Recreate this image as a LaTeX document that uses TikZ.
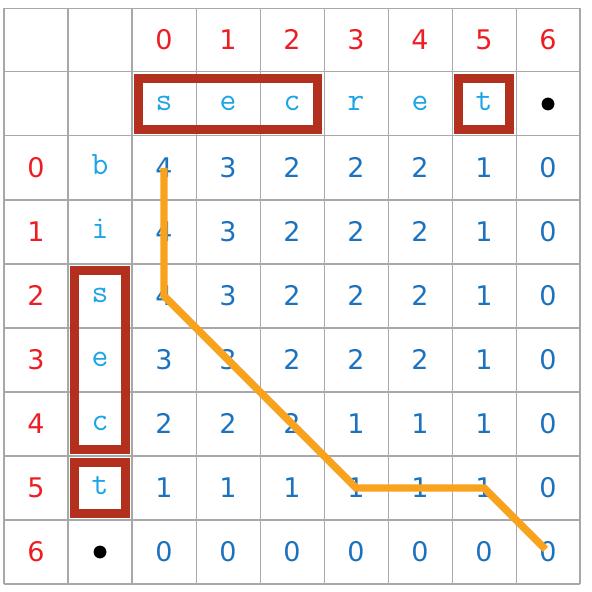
\documentclass[tikz,border=0pt]{standalone}
\usepackage{fontspec}
\usetikzlibrary{calc}
\newfontfamily\numfont{DejaVu Sans}
\definecolor{idxred}{HTML}{EE1C25}
\definecolor{numblue}{HTML}{1B72BD}
\definecolor{letcyan}{HTML}{1DA4E6}
\definecolor{boxred}{HTML}{B3301F}
\definecolor{pathorange}{HTML}{F8A21E}
\definecolor{gridgray}{HTML}{A8A8A8}
\begin{document}
\begin{tikzpicture}[
  idx/.style={text=idxred, font=\numfont\fontsize{12pt}{14pt}\selectfont, text height=8.8pt, text depth=0pt, inner sep=0pt},
  num/.style={text=numblue, font=\numfont\fontsize{12pt}{14pt}\selectfont, text height=8.8pt, text depth=0pt, inner sep=0pt},
  let/.style={text=letcyan, font=\ttfamily\fontsize{14.5pt}{16pt}\selectfont, text height=6.2pt, text depth=0pt, inner sep=0pt},
  dot/.style={circle, fill=black, inner sep=0pt, minimum size=0.2cm},
  hilite/.style={draw=boxred, line width=4pt},
  trace/.style={draw=pathorange, line width=3.3pt}
]
\useasboundingbox (-0.0625,0.125) rectangle (9.172,-9.125);
\draw[gridgray, line width=0.45pt] (0,-9) grid (9,0);
% column indices
\foreach \c in {0,...,6} {
  \node[idx] (ci-\c) at (\c+2.5,-0.5) {\c};
}
% row indices
\foreach \r in {0,...,6} {
  \node[idx] (ri-\r) at (0.5,-\r-2.5) {\r};
}
% top string
\foreach \ch [count=\i from 0] in {s,e,c,r,e,t} {
  \node[let] (tc-\i) at (\i+2.5,-1.5) {\ch};
}
\node[dot] (tc-6) at (8.5,-1.5) {};
% left string
\foreach \ch [count=\i from 0] in {b,i,s,e,c,t} {
  \node[let] (lc-\i) at (1.5,-\i-2.5) {\ch};
}
\node[dot] (lc-6) at (1.5,-8.5) {};
% table
\foreach \row [count=\r from 0] in {
  {4,3,2,2,2,1,0},
  {4,3,2,2,2,1,0},
  {4,3,2,2,2,1,0},
  {3,3,2,2,2,1,0},
  {2,2,2,1,1,1,0},
  {1,1,1,1,1,1,0},
  {0,0,0,0,0,0,0}} {
  \foreach \v [count=\c from 0] in \row {
    \node[num] (n-\r-\c) at (\c+2.5,-\r-2.5) {\v};
  }
}
% path
\draw[trace] (n-0-0.center) -- (n-2-0.center) -- (n-5-3.center) -- (n-5-5.center) -- ($(n-6-6.center)+(-0.04,0.04)$);
% boxes
\draw[hilite] (2.1,-1.1) rectangle (4.9,-1.9);
\draw[hilite] (7.1,-1.1) rectangle (7.9,-1.9);
\draw[hilite] (1.1,-4.1) rectangle (1.9,-6.9);
\draw[hilite] (1.1,-7.1) rectangle (1.9,-7.9);
\end{tikzpicture}
\end{document}
